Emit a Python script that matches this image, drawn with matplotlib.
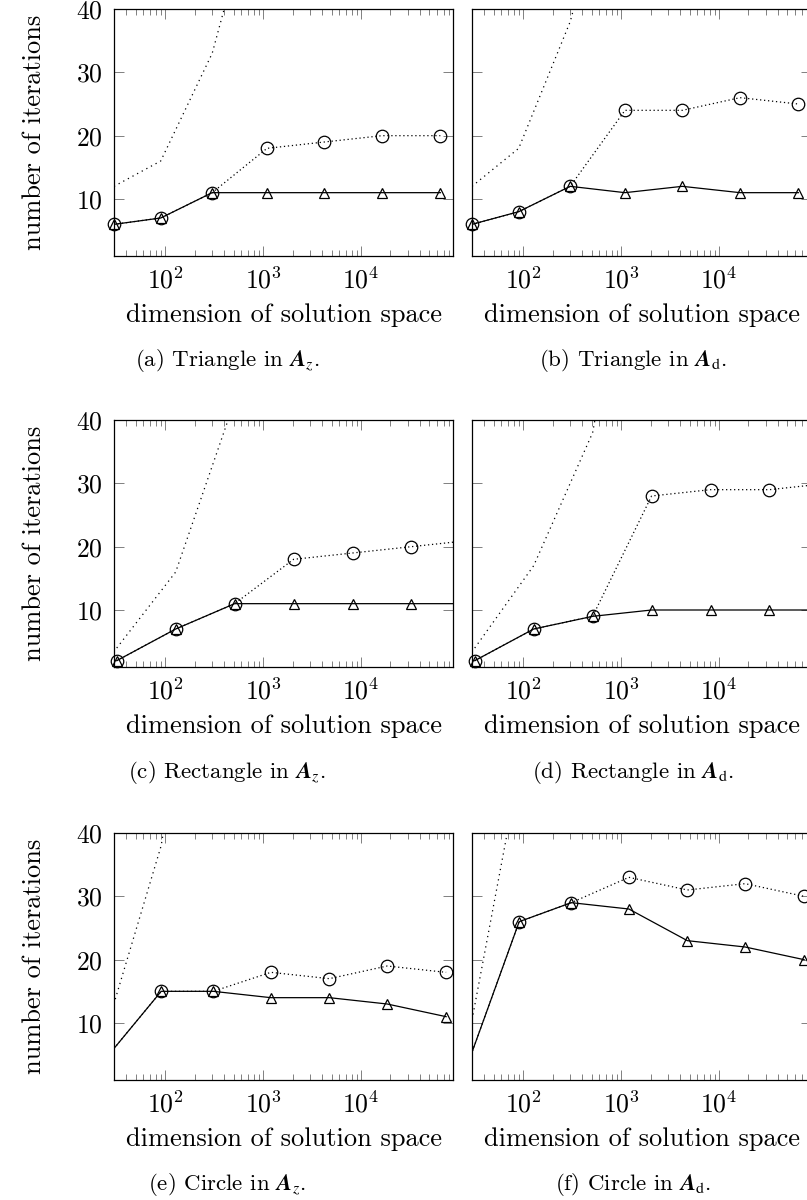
import matplotlib
matplotlib.use('Agg')
import matplotlib.pyplot as plt
from matplotlib.ticker import LogLocator, NullFormatter, FixedLocator

plt.rcParams['font.family'] = 'cmr10'
plt.rcParams['mathtext.fontset'] = 'cm'
plt.rcParams['axes.formatter.use_mathtext'] = True

W, H = 807, 1200
DPI = 100

# problem sizes (dimension of solution space)
tri_dims = [30, 90, 302, 1096, 4217, 16400, 64600]
rect_dims = [32, 128, 512, 2048, 8192, 32768, 131072]
circ_dims = [25, 91, 310, 1200, 4750, 18500, 74000]

# (a) triangle, A_z
a_circ = [6, 7, 11, 18, 19, 20, 20]
a_tri = [6, 7, 11, 11, 11, 11, 11]
a_ref = [12, 16, 33, 65]
# (b) triangle, A_d
b_circ = [6, 8, 12, 24, 24, 26, 25]
b_tri = [6, 8, 12, 11, 12, 11, 11]
b_ref = [12, 18, 38, 70]
# (c) rectangle, A_z
c_circ = [2, 7, 11, 18, 19, 20, 21]
c_tri = [2, 7, 11, 11, 11, 11, 11]
c_ref = [4, 16, 43, 100]
# (d) rectangle, A_d
d_circ = [2, 7, 9, 28, 29, 29, 30]
d_tri = [2, 7, 9, 10, 10, 10, 10]
d_ref = [4, 17, 38, 90]
# (e) circle, A_z
e_circ = [4.5, 15, 15, 18, 17, 19, 18]
e_tri = [4.5, 15, 15, 14, 14, 13, 11]
e_ref = [9, 38, 90]
# (f) circle, A_d
f_circ = [2, 26, 29, 33, 31, 32, 30]
f_tri = [2, 26, 29, 28, 23, 22, 20]
f_ref = [4, 50, 100]

captions = [r'(a) Triangle in $\mathbfit{A}_{z}$.', r'(b) Triangle in $\mathbfit{A}_{\mathrm{d}}$.',
            r'(c) Rectangle in $\mathbfit{A}_{z}$.', r'(d) Rectangle in $\mathbfit{A}_{\mathrm{d}}$.',
            r'(e) Circle in $\mathbfit{A}_{z}$.', r'(f) Circle in $\mathbfit{A}_{\mathrm{d}}$.']

panels = [
    (tri_dims, a_circ, a_tri, a_ref),
    (tri_dims, b_circ, b_tri, b_ref),
    (rect_dims, c_circ, c_tri, c_ref),
    (rect_dims, d_circ, d_tri, d_ref),
    (circ_dims, e_circ, e_tri, e_ref),
    (circ_dims, f_circ, f_tri, f_ref),
]

col_left = [114, 472]
row_top = [9, 420, 833]
ax_w, ax_h = 339, 247
cap_y = [361, 772, 1184]
cap_x = [227, 633]
XMIN, XMAX = 30, 87000

fig = plt.figure(figsize=(W / DPI, H / DPI), dpi=DPI)

for i, (dims, circ, tri, ref) in enumerate(panels):
    r, c = divmod(i, 2)
    x0, y0 = col_left[c], row_top[r]
    ax = fig.add_axes([x0 / W, 1 - (y0 + ax_h) / H, ax_w / W, ax_h / H])

    # dotted reference curve without markers
    ax.plot(dims[:len(ref)], ref, color='black', lw=0.9, ls=(0, (1, 3.2)))
    # lines (clipped)
    ax.plot(dims, circ, color='black', lw=0.9, ls=(0, (1, 2.2)))
    ax.plot(dims, tri, color='black', lw=0.9, ls='-')
    # markers (not clipped, only points inside the x range)
    inside = [k for k, d in enumerate(dims) if XMIN * 0.99 <= d <= XMAX]
    ax.plot([dims[k] for k in inside], [circ[k] for k in inside], ls='none', marker='o',
            ms=9, mfc='none', mec='black', mew=0.9, clip_on=False)
    ax.plot([dims[k] for k in inside], [tri[k] for k in inside], ls='none', marker='^',
            ms=7, mfc='none', mec='black', mew=0.9, clip_on=False)

    ax.set_xscale('log')
    ax.set_xlim(XMIN, XMAX)
    ax.set_ylim(1, 40)
    ax.xaxis.set_major_locator(FixedLocator([1e2, 1e3, 1e4]))
    ax.xaxis.set_minor_locator(LogLocator(base=10, subs=range(2, 10), numticks=20))
    ax.xaxis.set_minor_formatter(NullFormatter())
    ax.set_yticks([10, 20, 30, 40])

    ax.tick_params(which='both', direction='in', top=True, right=True, color='0.5', width=0.7)
    ax.tick_params(which='major', length=7, labelsize=18.5, pad=8)
    ax.tick_params(which='minor', length=4)
    for s in ax.spines.values():
        s.set_linewidth(0.9)

    ax.set_xlabel('dimension of solution space', fontsize=19, labelpad=7)
    if c == 0:
        ax.set_ylabel('number of iterations', fontsize=19, labelpad=22)
    else:
        ax.set_yticklabels([])

    fig.text(cap_x[c] / W, 1 - cap_y[r] / H, captions[i], fontsize=16.5,
             ha='center', va='center', math_fontfamily='stix')

plt.savefig('out.png', dpi=DPI)
